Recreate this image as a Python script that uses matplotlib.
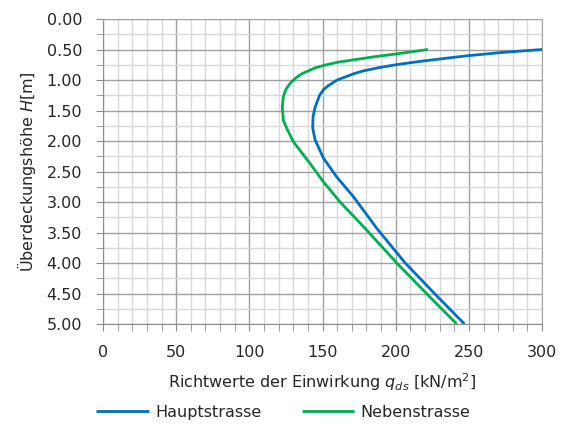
import numpy as np
import matplotlib.pyplot as plt
from matplotlib.ticker import MultipleLocator, FormatStrFormatter

# Values
H_haupt = [0.50, 0.55, 0.60, 0.65, 0.70, 0.75, 0.80, 0.85, 0.90, 1.00, 1.10, 1.16,
           1.25, 1.44, 1.60, 1.79, 1.98, 2.28, 2.59, 2.91, 3.43, 4.00, 4.50, 5.00]
q_haupt = [300, 272, 250, 232, 215, 200, 188, 178, 171, 160, 153.5, 150.6,
           148, 145, 143.5, 143.3, 144.9, 150.6, 159.7, 171, 187, 206.5, 226.5, 247]

H_neben = [0.50, 0.574, 0.62, 0.67, 0.71, 0.76, 0.80, 0.89, 0.95, 1.05, 1.15, 1.27,
           1.44, 1.66, 1.79, 2.01, 2.37, 2.67, 3.00, 3.43, 4.00, 4.50, 5.00]
q_neben = [222, 200, 185, 171, 160, 151, 145, 136.5, 132.5, 128, 125, 123.2,
           122.5, 123.2, 125.5, 130, 141.5, 150.6, 162, 179, 200.7, 221, 241.7]

labels = ["Hauptstrasse", "Nebenstrasse"]
colors = ["#0070C0", "#00B050"]

fig = plt.figure(figsize=(5.67, 4.30), dpi=100)
ax = fig.add_axes([0.1817, 0.2465, 0.956 - 0.1817, 0.9558 - 0.2465])

ax.plot(q_haupt, H_haupt, color=colors[0], lw=2.0, label=labels[0], zorder=3,
        solid_capstyle='butt', solid_joinstyle='round')
ax.plot(q_neben, H_neben, color=colors[1], lw=2.0, label=labels[1], zorder=3,
        solid_capstyle='butt', solid_joinstyle='round')

ax.set_xlim(0, 300)
ax.set_ylim(5.0, 0.0)
ax.xaxis.set_major_locator(MultipleLocator(50))
ax.xaxis.set_minor_locator(MultipleLocator(10))
ax.yaxis.set_major_locator(MultipleLocator(0.5))
ax.yaxis.set_minor_locator(MultipleLocator(0.25))
ax.yaxis.set_major_formatter(FormatStrFormatter('%.2f'))

ax.grid(which='major', color='#a0a0a0', lw=1.0, zorder=1)
ax.grid(which='minor', color='#d9d9d9', lw=1.0, zorder=0)
ax.set_axisbelow(True)

for s in ['top', 'right']:
    ax.spines[s].set_color('#a6a6a6')
for s in ['left', 'bottom']:
    ax.spines[s].set_color('#8c8c8c')

ax.tick_params(which='both', direction='out', color='#8c8c8c', labelsize=11.5,
               labelcolor='#262626', length=5)
ax.tick_params(axis='y', which='major', pad=10)
ax.tick_params(axis='x', which='major', pad=10)

ax.set_xlabel(r'Richtwerte der Einwirkung $q_{ds}$ [kN/m$^2$]', fontsize=11.5,
              color='#262626', labelpad=8)
ax.set_ylabel(r'Überdeckungshöhe $H$[m]', fontsize=11.5, color='#262626', labelpad=6)

fig.legend(loc='lower center', bbox_to_anchor=(0.5, -0.01), ncol=2, frameon=False,
           fontsize=11.5, handlelength=3.3, columnspacing=2.5, handletextpad=0.4,
           labelcolor='#262626')

fig.savefig('out.png', dpi=100)
